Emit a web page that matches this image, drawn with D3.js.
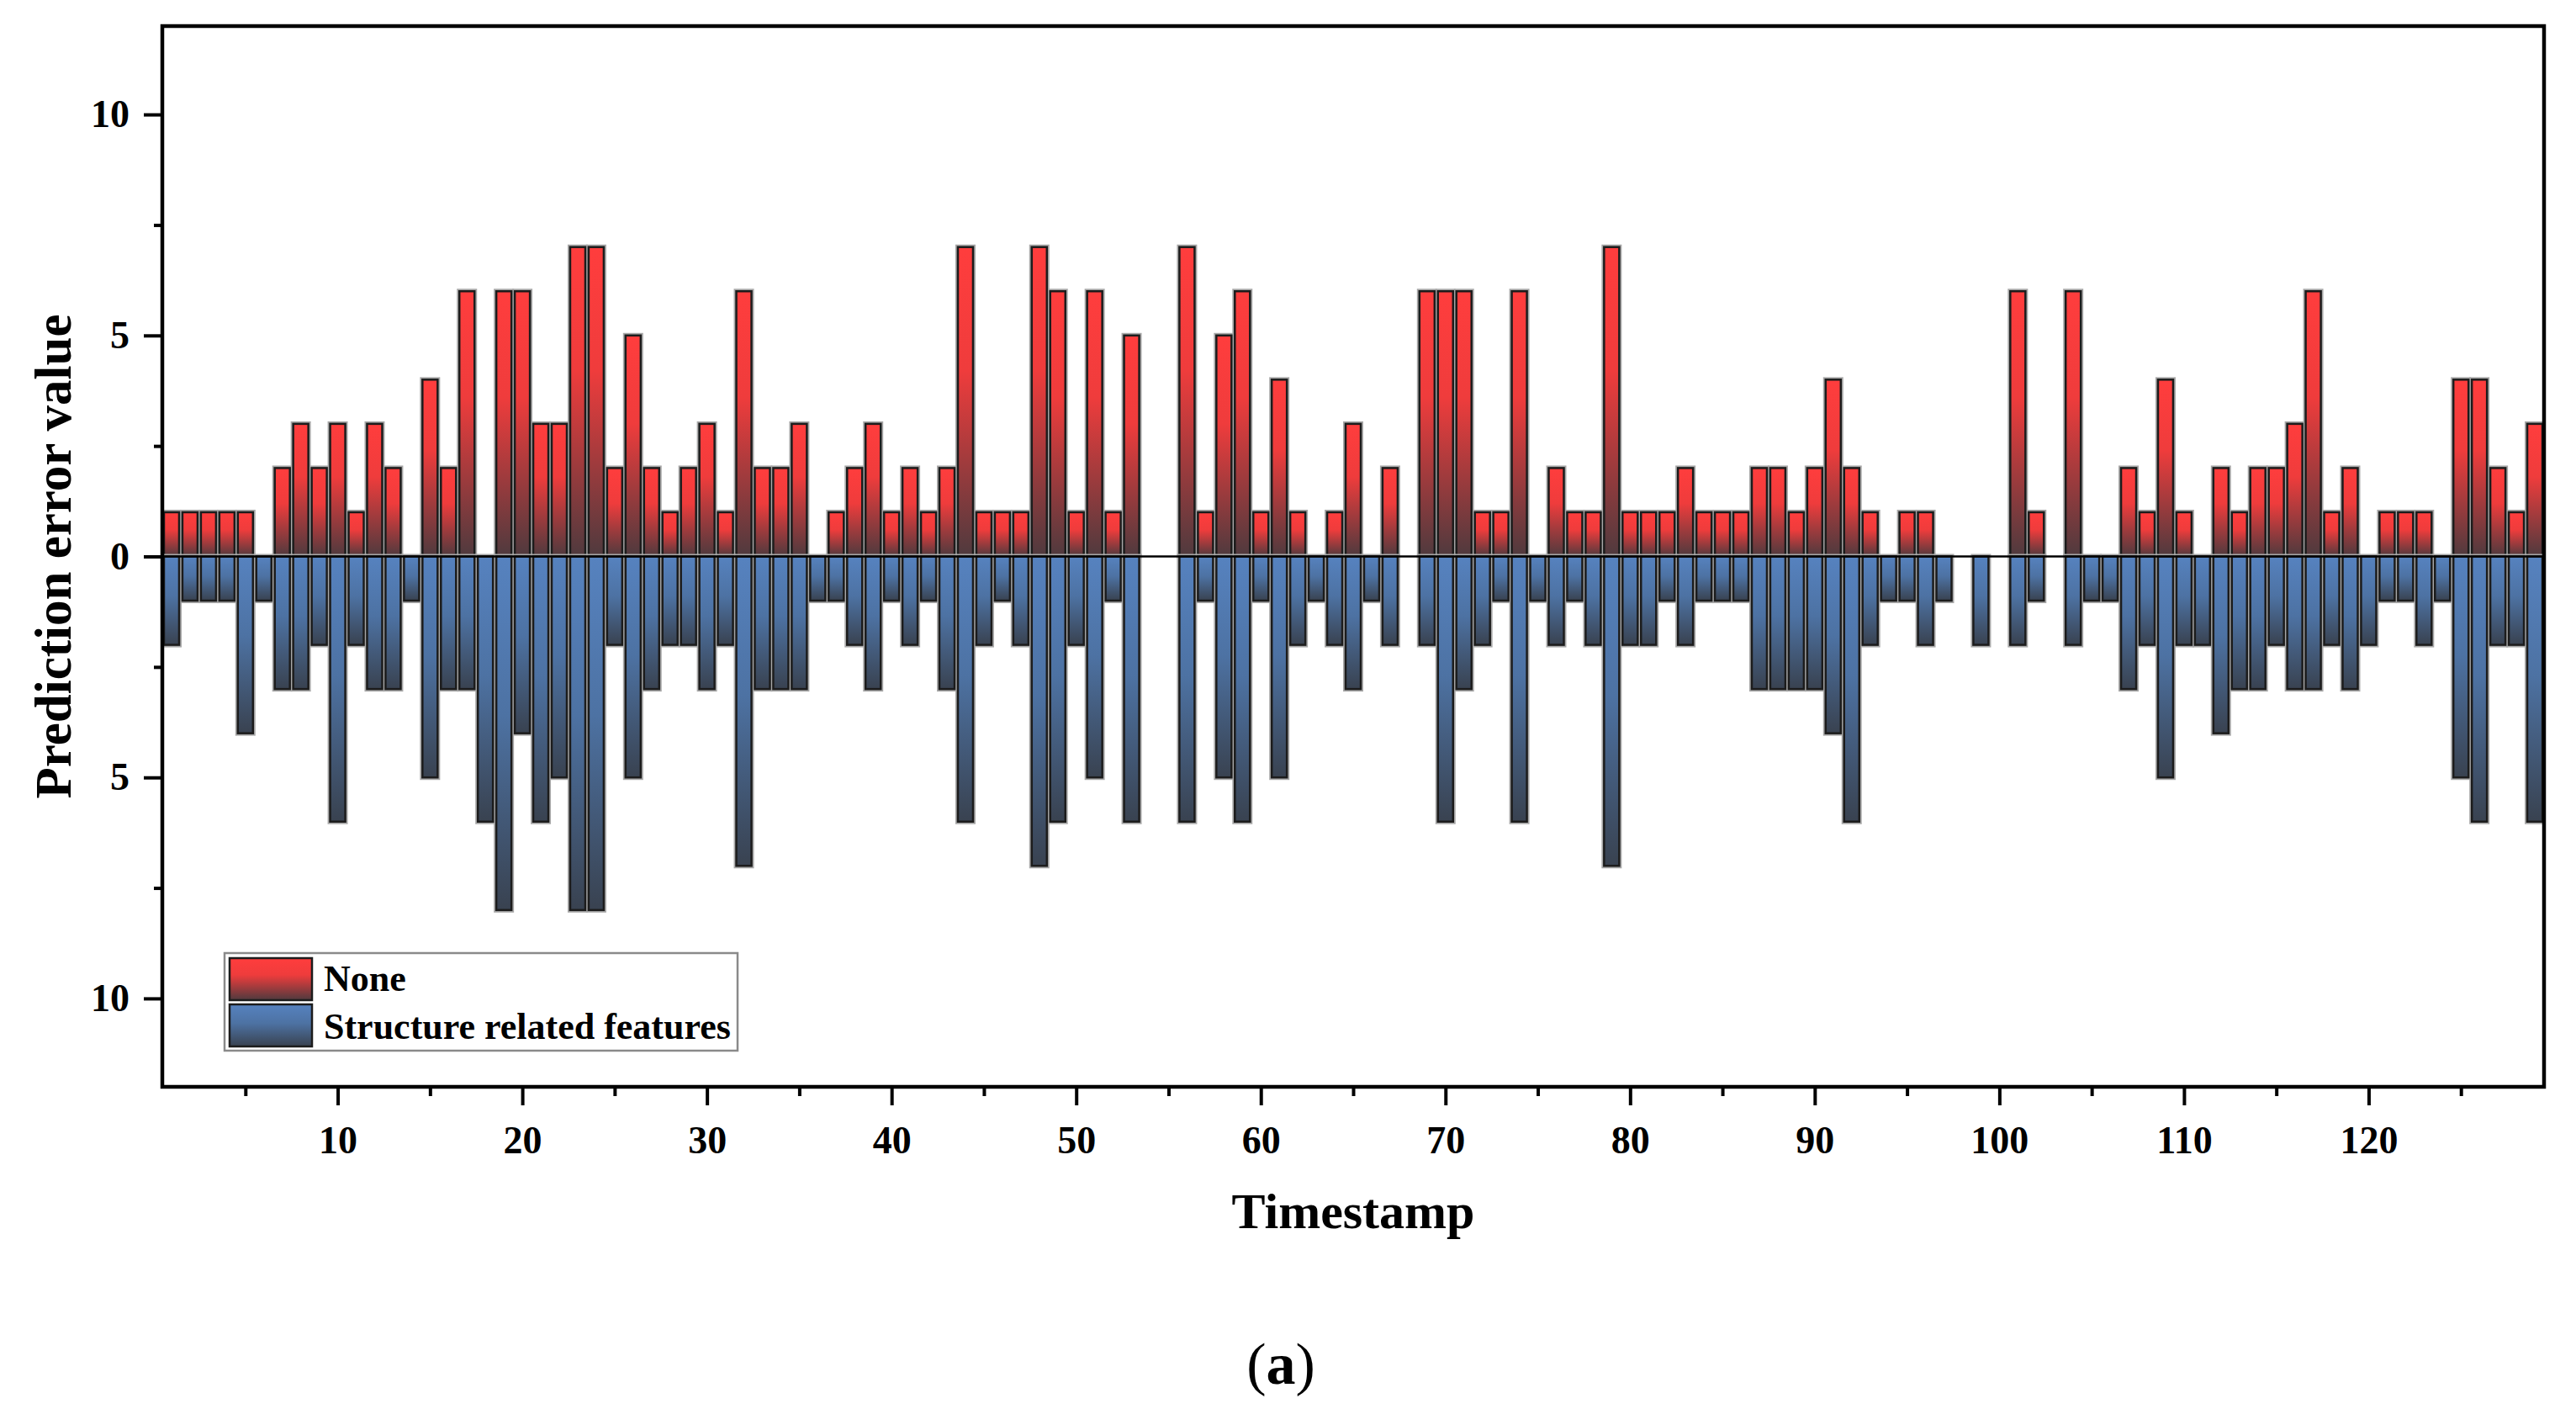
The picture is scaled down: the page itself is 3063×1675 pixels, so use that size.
<!DOCTYPE html>
<meta charset="utf-8">
<script src="https://d3js.org/d3.v7.min.js"></script>
<style>
  body { margin: 0; background: #fff; }
  text { font-family: "Liberation Serif", "Times New Roman", serif; }
</style>
<svg id="chart" width="3063" height="1675"></svg>
<script>

// timestamps 1..129
var timestamps = d3.range(1, 130);

// "None" errors (upper, red)
var noneErr = [
  1,1,1,1,1,0,2,3,2,3,
  1,3,2,0,4,2,6,0,6,6,
  3,3,7,7,2,5,2,1,2,3,
  1,6,2,2,3,0,1,2,3,1,
  2,1,2,7,1,1,1,7,6,1,
  6,1,5,0,0,7,1,5,6,1,
  4,1,0,1,3,0,2,0,6,6,
  6,1,1,6,0,2,1,1,7,1,
  1,1,2,1,1,1,2,2,1,2,
  4,2,1,0,1,1,0,0,0,0,
  6,1,0,6,0,0,2,1,4,1,
  0,2,1,2,2,3,6,1,2,0,
  1,1,1,0,4,4,2,1,3
];

// "Structure related features" errors (lower, blue)
var structErr = [
  -2,-1,-1,-1,-4,-1,-3,-3,-2,-6,
  -2,-3,-3,-1,-5,-3,-3,-6,-8,-4,
  -6,-5,-8,-8,-2,-5,-3,-2,-2,-3,
  -2,-7,-3,-3,-3,-1,-1,-2,-3,-1,
  -2,-1,-3,-6,-2,-1,-2,-7,-6,-2,
  -5,-1,-6,0,0,-6,-1,-5,-6,-1,
  -5,-2,-1,-2,-3,-1,-2,0,-2,-6,
  -3,-2,-1,-6,-1,-2,-1,-2,-7,-2,
  -2,-1,-2,-1,-1,-1,-3,-3,-3,-3,
  -4,-6,-2,-1,-1,-2,-1,0,-2,0,
  -2,-1,0,-2,-1,-1,-3,-2,-5,-2,
  -2,-4,-3,-3,-2,-3,-3,-2,-3,-2,
  -1,-1,-2,-1,-5,-6,-2,-2,-6
];

var seriesNames = ["None", "Structure related features"];
var xTicks = d3.range(10, 121, 10);
var xMinor = d3.range(5, 126, 10);
var yTicks = [-10, -5, 0, 5, 10];
var yMinor = [-7.5, -2.5, 2.5, 7.5];

var margin = {top: 31, right: 38, bottom: 383, left: 193},
    width = 3063 - margin.left - margin.right,
    height = 1675 - margin.top - margin.bottom;

var svg = d3.select("#chart");

var defs = svg.append("defs");
var redGrad = defs.append("linearGradient").attr("id", "gRed")
    .attr("x1", 0).attr("y1", 0).attr("x2", 0).attr("y2", 1);
redGrad.append("stop").attr("offset", "0%").attr("stop-color", "#ff3d3d");
redGrad.append("stop").attr("offset", "40%").attr("stop-color", "#ef3c3c");
redGrad.append("stop").attr("offset", "100%").attr("stop-color", "#4f3a3e");
var blueGrad = defs.append("linearGradient").attr("id", "gBlue")
    .attr("x1", 0).attr("y1", 0).attr("x2", 0).attr("y2", 1);
blueGrad.append("stop").attr("offset", "0%").attr("stop-color", "#5682bf");
blueGrad.append("stop").attr("offset", "45%").attr("stop-color", "#4d72a3");
blueGrad.append("stop").attr("offset", "100%").attr("stop-color", "#394250");

var g = svg.append("g")
    .attr("transform", "translate(" + margin.left + "," + margin.top + ")");

var x = d3.scaleLinear().domain([0.5, 129.5]).range([0, width]);
var y = d3.scaleLinear().domain([-12, 12]).range([height, 0]);

var bw = (x(2) - x(1)) * 0.82;

// bars
function drawBars(values, fill) {
  var bars = g.append("g");
  var data = timestamps.map(function (t, i) { return {t: t, v: values[i]}; })
      .filter(function (d) { return d.v !== 0; });
  // light halo
  bars.selectAll("rect.halo").data(data).enter().append("rect")
      .attr("class", "halo")
      .attr("x", function (d) { return x(d.t) - bw / 2; })
      .attr("y", function (d) { return y(Math.max(0, d.v)); })
      .attr("width", bw)
      .attr("height", function (d) { return Math.abs(y(d.v) - y(0)); })
      .attr("fill", "none")
      .attr("stroke", "#a8a8a8")
      .attr("stroke-width", 6);
  bars.selectAll("rect.bar").data(data).enter().append("rect")
      .attr("class", "bar")
      .attr("x", function (d) { return x(d.t) - bw / 2; })
      .attr("y", function (d) { return y(Math.max(0, d.v)); })
      .attr("width", bw)
      .attr("height", function (d) { return Math.abs(y(d.v) - y(0)); })
      .attr("fill", fill)
      .attr("stroke", "#1c1c1c")
      .attr("stroke-width", 2.5);
}
drawBars(noneErr, "url(#gRed)");
drawBars(structErr, "url(#gBlue)");

// zero line
g.append("line")
    .attr("x1", 0).attr("x2", width)
    .attr("y1", y(0)).attr("y2", y(0))
    .attr("stroke", "#000").attr("stroke-width", 2.5);

// axes
g.append("g")
    .call(d3.axisLeft(y).tickValues(yTicks).tickSize(22).tickPadding(17)
      .tickFormat(function (d) { return Math.abs(d); }));
g.append("g")
    .call(d3.axisLeft(y).tickValues(yMinor).tickSize(10).tickFormat(""));

g.append("g")
    .attr("transform", "translate(0," + height + ")")
    .call(d3.axisBottom(x).tickValues(xTicks).tickSize(22).tickPadding(24));
g.append("g")
    .attr("transform", "translate(0," + height + ")")
    .call(d3.axisBottom(x).tickValues(xMinor).tickSize(11).tickFormat(""));

g.selectAll(".domain").remove();
g.selectAll(".tick line").attr("stroke", "#000").attr("stroke-width", 4);
g.selectAll(".tick text")
    .attr("fill", "#000")
    .style("font-size", "46px")
    .style("font-weight", "bold");

// frame
g.append("rect")
    .attr("x", 0).attr("y", 0)
    .attr("width", width).attr("height", height)
    .attr("fill", "none")
    .attr("stroke", "#000")
    .attr("stroke-width", 4.5);

// axis titles
svg.append("text")
    .attr("x", margin.left + width / 2)
    .attr("y", 1460)
    .attr("text-anchor", "middle")
    .style("font-size", "60px")
    .style("font-weight", "bold")
    .text("Timestamp");

svg.append("text")
    .attr("transform", "translate(84," + (margin.top + height / 2) + ") rotate(-90)")
    .attr("text-anchor", "middle")
    .style("font-size", "61px")
    .style("font-weight", "bold")
    .text("Prediction error value");

// legend
var legend = svg.append("g").attr("transform", "translate(267,1133)");
legend.append("rect")
    .attr("width", 610).attr("height", 116)
    .attr("fill", "#fff")
    .attr("stroke", "#8a8a8a")
    .attr("stroke-width", 2.5);
var fills = ["url(#gRed)", "url(#gBlue)"];
seriesNames.forEach(function (name, i) {
  legend.append("rect")
      .attr("x", 6).attr("y", 6 + i * 55)
      .attr("width", 98).attr("height", 50)
      .attr("fill", fills[i])
      .attr("stroke", "#1c1c1c")
      .attr("stroke-width", 2.5);
  legend.append("text")
      .attr("x", 118).attr("y", 45 + i * 57)
      .style("font-size", "44px")
      .style("font-weight", "bold")
      .text(name);
});

// panel label
var lab = svg.append("text")
    .attr("x", 1523).attr("y", 1645)
    .attr("text-anchor", "middle")
    .style("font-size", "70px");
lab.append("tspan").text("(");
lab.append("tspan").style("font-weight", "bold").text("a");
lab.append("tspan").text(")");

</script>
